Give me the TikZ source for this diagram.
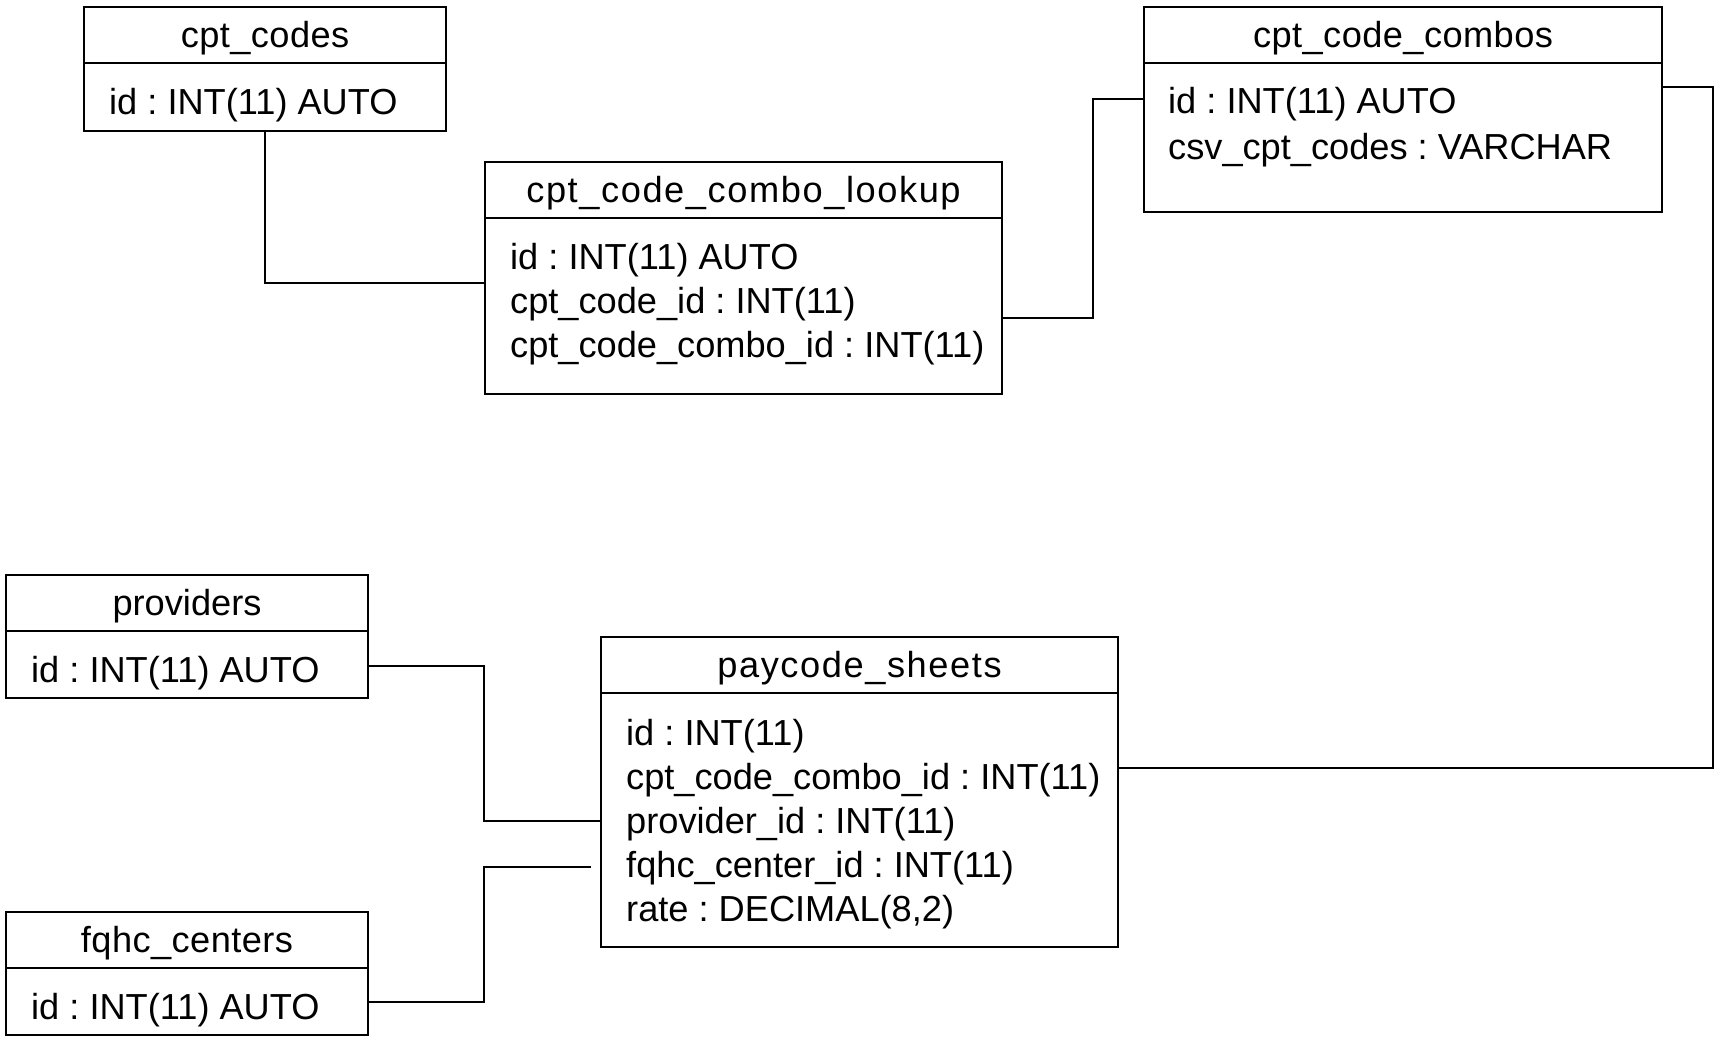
\documentclass[tikz,border=0pt]{standalone}
\usepackage{fontspec}
\setmainfont{Liberation Sans}
\usetikzlibrary{calc}
\frenchspacing
\newcommand{\tblfont}{\fontsize{36.2}{44}\selectfont}
\newcommand{\widefont}{\fontsize{36.2}{44}\selectfont\addfontfeature{LetterSpace=4.4}}
\newcommand{\midfont}{\fontsize{36.2}{44}\selectfont\addfontfeature{LetterSpace=1.2}}
\tikzset{
  tbl/.style={draw=black, line width=2.8pt, inner sep=0pt, outer sep=0pt},
  hdr/.style={tbl, minimum height=56pt, anchor=north west, font=\midfont,
              text height=25.6pt, text depth=0pt},
  bodybox/.style={tbl, anchor=north west},
  fld/.style={anchor=base west, inner sep=0pt, font=\tblfont},
  link/.style={draw=black, line width=2.8pt, line join=miter}
}
\begin{document}
\begin{tikzpicture}[x=1pt,y=-1pt]
\useasboundingbox (0,0) rectangle (1725,1047);

% cpt_codes
\node[hdr, minimum width=362pt] (cch) at (84,7) {cpt\_codes};
\node[bodybox, minimum width=362pt, minimum height=68pt] (ccb) at (cch.south west) {};
\node[fld] (cc1) at ($(ccb.north west)+(25,51)$) {id : INT(11) AUTO};

% cpt_code_combo_lookup
\node[hdr, minimum width=517pt, font=\widefont] (lkh) at (485,162) {cpt\_code\_combo\_lookup};
\node[bodybox, minimum width=517pt, minimum height=176pt] (lkb) at (lkh.south west) {};
\node[fld] (lk1) at ($(lkb.north west)+(25,51)$) {id : INT(11) AUTO};
\node[fld] (lk2) at ($(lkb.north west)+(25,95)$) {cpt\_code\_id : INT(11)};
\node[fld] (lk3) at ($(lkb.north west)+(25,139)$) {cpt\_code\_combo\_id : INT(11)};

% cpt_code_combos
\node[hdr, minimum width=518pt] (cbh) at (1144,7) {cpt\_code\_combos};
\node[bodybox, minimum width=518pt, minimum height=149pt] (cbb) at (cbh.south west) {};
\node[fld] (cb1) at ($(cbb.north west)+(24,50)$) {id : INT(11) AUTO};
\node[fld] (cb2) at ($(cbb.north west)+(24,96)$) {csv\_cpt\_codes : VARCHAR};

% providers
\node[hdr, minimum width=362pt, font=\tblfont] (pvh) at (6,575) {providers};
\node[bodybox, minimum width=362pt, minimum height=67pt] (pvb) at (pvh.south west) {};
\node[fld] (pv1) at ($(pvb.north west)+(25,51)$) {id : INT(11) AUTO};

% paycode_sheets
\node[hdr, minimum width=517pt, font=\widefont] (psh) at (601,637) {paycode\_sheets};
\node[bodybox, minimum width=517pt, minimum height=254pt] (psb) at (psh.south west) {};
\node[fld] (ps1) at ($(psb.north west)+(25,52)$) {id : INT(11)};
\node[fld] (ps2) at ($(psb.north west)+(25,96)$) {cpt\_code\_combo\_id : INT(11)};
\node[fld] (ps3) at ($(psb.north west)+(25,140)$) {provider\_id : INT(11)};
\node[fld] (ps4) at ($(psb.north west)+(25,184)$) {fqhc\_center\_id : INT(11)};
\node[fld] (ps5) at ($(psb.north west)+(25,228)$) {rate : DECIMAL(8,2)};

% fqhc_centers
\node[hdr, minimum width=362pt] (fqh) at (6,912) {fqhc\_centers};
\node[bodybox, minimum width=362pt, minimum height=67pt] (fqb) at (fqh.south west) {};
\node[fld] (fq1) at ($(fqb.north west)+(25,51)$) {id : INT(11) AUTO};

% connectors
\draw[link] (ccb.south) |- ($(lkb.north west)+(0,65)$);
\draw[link] ($(lkb.north east)+(0,100)$) -- ++(91,0) |- ($(cbb.north west)+(0,36)$);
\draw[link] ($(cbb.north east)+(0,24)$) -- ++(51,0) |- ($(psb.north east)+(0,75)$);
\draw[link] ($(pvb.north east)+(0,35)$) -- ++(116,0) |- ($(psb.north west)+(0,128)$);
\draw[link] ($(fqb.north east)+(0,34)$) -- ++(116,0) |- ($(psb.north west)+(-10,174)$);
\end{tikzpicture}
\end{document}
